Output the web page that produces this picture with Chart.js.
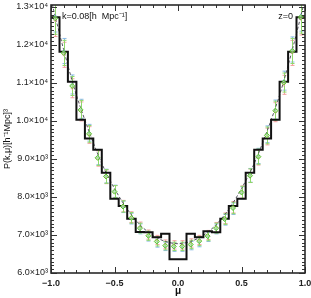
<!DOCTYPE html>
<html><head><meta charset="utf-8">
<script src="https://cdn.jsdelivr.net/npm/chart.js@4"></script>
<style>html,body{margin:0;padding:0;background:#fff}#wrap{width:311px;height:298px;position:relative}</style>
</head><body><div id="wrap"><canvas id="c" width="311" height="298"></canvas></div>
<script>
const muCenters = [-0.967,-0.9,-0.833,-0.767,-0.7,-0.633,-0.567,-0.5,-0.433,-0.367,-0.3,-0.233,-0.167,-0.1,-0.033,
                   0.033,0.1,0.167,0.233,0.3,0.367,0.433,0.5,0.567,0.633,0.7,0.767,0.833,0.9,0.967];
const binEdges = [-1,-0.933,-0.867,-0.8,-0.733,-0.667,-0.6,-0.533,-0.467,-0.4,-0.333,-0.267,-0.2,-0.133,-0.067,0,
                  0.067,0.133,0.2,0.267,0.333,0.4,0.467,0.533,0.6,0.667,0.733,0.8,0.867,0.933,1];
const stepValues = [12730,11820,11030,10030,9540,9240,8640,7950,7760,7430,7080,7070,6940,7030,6360,
                    6360,7030,6940,7100,7070,7430,7760,7950,8640,9240,9540,10030,11030,11820,12730];
const greenValues = [12700,11790,10920,10290,9660,9030,8540,8140,7750,7450,7180,6980,6830,6720,6700,
                     6700,6750,6840,6970,7180,7420,7710,8120,8560,9060,9620,10270,11010,11840,12730];
const greenErrors = [420,330,250,250,220,200,180,160,150,140,130,120,120,110,110,
                     110,110,120,120,130,140,150,160,180,200,220,250,250,330,420];
const redValues = [12640,11740,10860,10250,9630,9010,8530,8140,7760,7470,7210,7010,6870,6760,6740,
                   6740,6790,6870,7000,7200,7440,7730,8130,8560,9040,9590,10230,10950,11790,12680];
const blueValues = [12760,11840,10960,10320,9690,9050,8550,8150,7740,7430,7160,6960,6800,6700,6680,
                    6680,6720,6810,6950,7160,7400,7690,8110,8570,9080,9650,10300,11060,11880,12780];
const theoryMu = [-1,-0.9,-0.8,-0.7,-0.6,-0.5,-0.4,-0.3,-0.2,-0.1,0,0.1,0.2,0.3,0.4,0.5,0.6,0.7,0.8,0.9,1];
const theoryValues = [13200,11870,10680,9720,8880,8220,7680,7270,6990,6830,6770,6830,6990,7270,7680,8220,8880,9720,10680,11870,13200];
const yTickValues = [6000,7000,8000,9000,10000,11000,12000,13000];
const yTickLabels = ['6.0\u00d710\u00b3','7.0\u00d710\u00b3','8.0\u00d710\u00b3','9.0\u00d710\u00b3','1.0\u00d710\u2074','1.1\u00d710\u2074','1.2\u00d710\u2074','1.3\u00d710\u2074'];
const xTickValues = [-1,-0.5,0,0.5,1];
const xTickLabels = ['\u22121.0','\u22120.5','0.0','0.5','1.0'];
const annotationLeft = 'k=0.08[h  Mpc\u207b\u00b9]';
const annotationRight = 'z=0';
const xTitle = '\u03bc';
const yTitle = 'P(k,\u03bc)[h\u207b\u00b9Mpc]\u00b3';

const FONT = "'Liberation Sans', Arial, sans-serif";

const errorBarPlugin = {
  id: 'errorBars',
  beforeDatasetsDraw(chart) {
    const {ctx, scales: {x, y}} = chart;
    const sets = [
      {vals: redValues, col: '#f2a0a0'},
      {vals: blueValues, col: '#8ab8e6'},
      {vals: greenValues, col: '#8fd86a'}
    ];
    ctx.save();
    ctx.beginPath();
    ctx.rect(chart.chartArea.left, chart.chartArea.top, chart.chartArea.right - chart.chartArea.left, chart.chartArea.bottom - chart.chartArea.top);
    ctx.clip();
    sets.forEach(s => {
      ctx.strokeStyle = s.col;
      ctx.lineWidth = 1;
      s.vals.forEach((v, i) => {
        const px = Math.round(x.getPixelForValue(muCenters[i])) + 0.5;
        const y1 = y.getPixelForValue(v - greenErrors[i]);
        const y2 = y.getPixelForValue(v + greenErrors[i]);
        ctx.beginPath();
        ctx.moveTo(px, y1); ctx.lineTo(px, y2);
        ctx.moveTo(px - 2, y1); ctx.lineTo(px + 2, y1);
        ctx.moveTo(px - 2, y2); ctx.lineTo(px + 2, y2);
        ctx.stroke();
      });
    });
    ctx.restore();
  }
};

const framePlugin = {
  id: 'frame',
  afterDraw(chart) {
    const {ctx, chartArea: a, scales: {x, y}} = chart;
    ctx.save();
    ctx.strokeStyle = '#333';
    ctx.lineWidth = 1;
    const xMinor = [];
    for (let i = -10; i <= 10; i++) xMinor.push(i / 10);
    const yMinor = [];
    for (let v = 6000; v <= 13000; v += 100) yMinor.push(v);
    ctx.beginPath();
    xMinor.forEach(v => {
      const px = Math.round(x.getPixelForValue(v)) + 0.5;
      const major = xTickValues.some(t => Math.abs(t - v) < 1e-9);
      const len = major ? 6 : 3;
      ctx.moveTo(px, a.bottom); ctx.lineTo(px, a.bottom - len);
      ctx.moveTo(px, a.top); ctx.lineTo(px, a.top + len);
    });
    yMinor.forEach(v => {
      const py = Math.round(y.getPixelForValue(v)) + 0.5;
      const major = yTickValues.includes(v);
      const len = major ? 6 : 3;
      ctx.moveTo(a.left, py); ctx.lineTo(a.left + len, py);
      ctx.moveTo(a.right, py); ctx.lineTo(a.right - len, py);
    });
    ctx.stroke();
    ctx.lineWidth = 1.6;
    ctx.strokeStyle = '#2a2a2a';
    ctx.strokeRect(a.left, a.top, a.right - a.left, a.bottom - a.top);
    ctx.fillStyle = '#111';
    ctx.font = '9px ' + FONT;
    ctx.textBaseline = 'middle';
    ctx.textAlign = 'left';
    ctx.fillText(annotationLeft, a.left + 11, a.top + 12);
    ctx.textAlign = 'right';
    ctx.fillText(annotationRight, a.right - 12, a.top + 12);
    ctx.restore();
  }
};

new Chart(document.getElementById('c'), {
  type: 'line',
  data: {
    datasets: [
      { label: 'green', data: muCenters.map((m, i) => ({x: m, y: greenValues[i]})), showLine: false,
        pointStyle: 'rectRot', pointRadius: 2.5, borderWidth: 1, borderColor: '#5cbf2e', backgroundColor: 'rgba(170,230,140,0.6)' },
      { label: 'blue', data: muCenters.map((m, i) => ({x: m, y: blueValues[i]})), showLine: false,
        pointStyle: 'rectRot', pointRadius: 1.2, borderWidth: 1, borderColor: '#8ab8e6', backgroundColor: 'transparent' },
      { label: 'red', data: muCenters.map((m, i) => ({x: m, y: redValues[i]})), showLine: false,
        pointStyle: 'rectRot', pointRadius: 1.2, borderWidth: 1, borderColor: '#f2a0a0', backgroundColor: 'transparent' },
      { label: 'step', data: binEdges.map((e, i) => ({x: e, y: stepValues[Math.min(i, stepValues.length - 1)]})),
        stepped: 'before', borderColor: '#111', borderWidth: 2, pointRadius: 0, fill: false },
      { label: 'theory', data: theoryMu.map((m, i) => ({x: m, y: theoryValues[i]})),
        borderColor: '#555560', borderDash: [3, 2], borderWidth: 1, pointRadius: 0, fill: false, tension: 0.3 }
    ]
  },
  options: {
    responsive: false,
    animation: false,
    layout: { padding: { left: 0, right: 6, top: 3, bottom: 0 } },
    plugins: { legend: { display: false }, tooltip: { enabled: false } },
    scales: {
      x: {
        type: 'linear', min: -1, max: 1,
        grid: { display: false, drawTicks: false },
        border: { display: false },
        afterBuildTicks: s => { s.ticks = xTickValues.map(v => ({value: v})); },
        afterFit: s => { s.height = 25; s.paddingLeft = 0; s.paddingRight = 0; },
        ticks: { padding: 5, maxRotation: 0, autoSkip: false, color: '#222',
                 font: { family: FONT, size: 9, weight: 'bold' },
                 callback: v => xTickLabels[xTickValues.indexOf(v)] },
        title: { display: true, text: xTitle, color: '#111', padding: { top: 0, bottom: 1 },
                 font: { family: FONT, size: 10, weight: 'bold' } }
      },
      y: {
        type: 'linear', min: 6000, max: 13050,
        grid: { display: false, drawTicks: false },
        border: { display: false },
        afterBuildTicks: s => { s.ticks = yTickValues.map(v => ({value: v})); },
        afterFit: s => { s.width = 51; s.paddingTop = 0; s.paddingBottom = 0; },
        ticks: { padding: 3, autoSkip: false, color: '#222',
                 font: { family: FONT, size: 9 },
                 callback: v => yTickLabels[yTickValues.indexOf(v)] },
        title: { display: true, text: yTitle, color: '#111', padding: { top: 2, bottom: 0 },
                 font: { family: FONT, size: 9 } }
      }
    }
  },
  plugins: [errorBarPlugin, framePlugin]
});
</script>
</body></html>
